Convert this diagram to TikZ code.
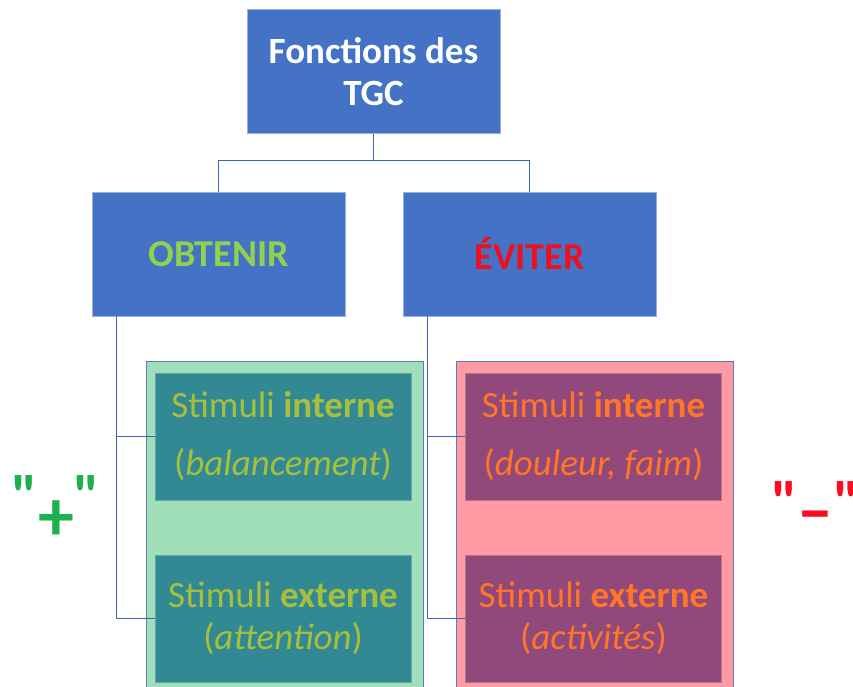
\documentclass[tikz,border=0pt]{standalone}
\usepackage{fontspec}
\setmainfont{Carlito}
\usetikzlibrary{calc}
\definecolor{BoxClr}{RGB}{68,114,196}
\definecolor{LineClr}{RGB}{62,100,178}
\definecolor{ObtClr}{RGB}{146,208,80}
\definecolor{EviClr}{RGB}{238,16,30}
\definecolor{PlusBgClr}{RGB}{161,222,186}
\definecolor{MinusBgClr}{RGB}{255,154,162}
\definecolor{TealClr}{RGB}{50,137,148}
\definecolor{PurpleClr}{RGB}{145,72,122}
\definecolor{OliveClr}{RGB}{166,192,60}
\definecolor{OrangeClr}{RGB}{255,118,40}
\definecolor{PlusClr}{RGB}{30,176,80}
\definecolor{MinusClr}{RGB}{255,10,30}

\begin{document}
\begin{tikzpicture}[x=1pt,y=-1pt,
  bigfont/.style={font=\fontsize{37}{42}\selectfont},
  blockbox/.style={draw=BoxClr!55!white,line width=.6pt,fill=BoxClr,minimum width=253pt,minimum height=124pt,align=center,inner sep=0pt},
  panel/.style={draw=LineClr!85!white,line width=1pt,minimum width=277pt,minimum height=334pt},
  stimbox/.style={draw=#1!75!white,line width=.6pt,fill=#1,minimum width=256pt,minimum height=127pt,align=center,inner sep=0pt},
  sign/.style={font=\fontsize{60}{60}\selectfont\bfseries,inner sep=0pt},
  link/.style={draw=LineClr,line width=1.2pt}]
\useasboundingbox (0,0) rectangle (853,687);

\node[blockbox,text=white,font=\fontsize{37}{42}\selectfont\bfseries] (tgc) at (373.5,71.5) {Fonctions des\\TGC};
\node[blockbox,text=ObtClr,font=\fontsize{38}{42}\selectfont\bfseries] (obt) at (218.5,254) {OBTENIR};
\node[blockbox,text=EviClr,font=\fontsize{38}{42}\selectfont\bfseries] (evi) at (529.5,254) {ÉVITER};

\node[panel,fill=PlusBgClr] (pbg) at (284.5,528) {};
\node[panel,fill=MinusBgClr] (mbg) at (594.5,528) {};

\node[stimbox=TealClr,text=OliveClr,bigfont] (tin) at (283,436.5) {Stimuli \textbf{interne}\\[16pt](\textit{balancement})};
\node[stimbox=TealClr,text=OliveClr,bigfont] (tex) at (283,618.5) {Stimuli \textbf{externe}\\(\textit{attention})};
\node[stimbox=PurpleClr,text=OrangeClr,bigfont] (pin) at (593.5,436.5) {Stimuli \textbf{interne}\\[16pt](\textit{douleur, faim})};
\node[stimbox=PurpleClr,text=OrangeClr,bigfont] (pex) at (593.5,618.5) {Stimuli \textbf{externe}\\(\textit{activités})};

\draw[link] (tgc.south) -- ++(0,27) coordinate (fork);
\draw[link] (fork) -| (obt.north);
\draw[link] (fork) -| (evi.north);

\draw[link] (obt.south west) ++(25,0) |- (tin.west);
\draw[link] (obt.south west) ++(25,0) |- (tex.west);
\draw[link] (evi.south west) ++(25,0) |- (pin.west);
\draw[link] (evi.south west) ++(25,0) |- (pex.west);

\node[sign,text=PlusClr] (plus) at (56,508) {\textquotedbl\raisebox{-.4em}{\fontsize{72}{72}\selectfont+}\textquotedbl};
\node[sign,text=MinusClr,anchor=west] (minus) at (771,508) {\textquotedbl\raisebox{-.2em}{\fontsize{72}{72}\selectfont –}\textquotedbl};
\end{tikzpicture}
\end{document}
